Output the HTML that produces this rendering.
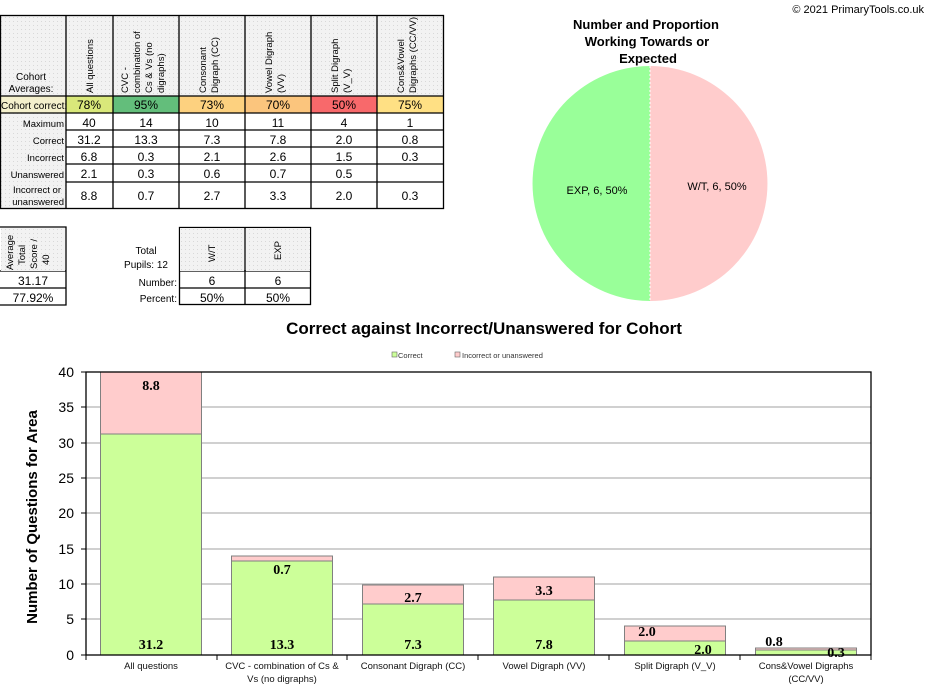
<!DOCTYPE html>
<html><head><style>body{margin:0;background:#fff}svg{display:block}</style></head><body>
<svg width="928" height="685" xmlns="http://www.w3.org/2000/svg" font-family="Liberation Sans, Arial, sans-serif">
<defs><pattern id="dot" width="4" height="4" patternUnits="userSpaceOnUse"><rect width="4" height="4" fill="#f2f2f2"/><rect x="1" y="1" width="1" height="1" fill="#d8d8d8"/></pattern></defs>
<!-- top table -->
<rect x="0" y="15" width="444" height="81" fill="url(#dot)"/>
<rect x="0" y="96" width="66" height="113" fill="url(#dot)"/>
<rect x="0" y="96" width="66" height="17" fill="#f4f0cc"/>
<rect x="66" y="96" width="47" height="17" fill="#d9e87a"/>
<rect x="113" y="96" width="66" height="17" fill="#63be7b"/>
<rect x="179" y="96" width="66" height="17" fill="#fdd17f"/>
<rect x="245" y="96" width="66" height="17" fill="#fbc57d"/>
<rect x="311" y="96" width="66" height="17" fill="#f8696b"/>
<rect x="377" y="96" width="67" height="17" fill="#ffe084"/>
<g stroke="#000" stroke-width="1.3" fill="none">
<rect x="0.5" y="15.5" width="443" height="193"/>
<path d="M66 15V209M113 15V209M179 15V209M245 15V209M311 15V209M377 15V209M0 96H444M0 113H444M66 130H444M66 147H444M66 164H444M66 182H444"/>
<path d="M0 227H66V305H0M0 271H66M0 288H66"/>
<rect x="179.5" y="227.5" width="131" height="77"/>
<path d="M245 227V305M179 271H311M179 288H311"/>
</g>
<rect x="1" y="228" width="64" height="43" fill="url(#dot)"/>
<rect x="180" y="228" width="64" height="43" fill="url(#dot)"/>
<rect x="246" y="228" width="64" height="43" fill="url(#dot)"/>
<g font-size="10" fill="#000">
<text x="31" y="80" text-anchor="middle">Cohort</text>
<text x="31" y="92" text-anchor="middle">Averages:</text>
<text x="1" y="109" font-size="10">Cohort correct:</text>
<g text-anchor="end" font-size="9.5"><text x="64" y="127">Maximum</text><text x="64" y="144">Correct</text><text x="64" y="161">Incorrect</text><text x="64" y="178">Unanswered</text><text x="61" y="193">Incorrect or</text><text x="64" y="205">unanswered</text></g>
<g font-size="9.5">
<text transform="translate(93,93) rotate(-90)">All questions</text>
<text transform="translate(128,93) rotate(-90)">CVC -</text><text transform="translate(140,93) rotate(-90)">combination of</text><text transform="translate(152,93) rotate(-90)">Cs &amp; Vs (no</text><text transform="translate(164,93) rotate(-90)">digraphs)</text>
<text transform="translate(206,93) rotate(-90)">Consonant</text><text transform="translate(218,93) rotate(-90)">Digraph (CC)</text>
<text transform="translate(272,93) rotate(-90)">Vowel Digraph</text><text transform="translate(284,93) rotate(-90)">(VV)</text>
<text transform="translate(338,93) rotate(-90)">Split Digraph</text><text transform="translate(350,93) rotate(-90)">(V_V)</text>
<text transform="translate(404,93) rotate(-90)">Cons&amp;Vowel</text><text transform="translate(416,93) rotate(-90)">Digraphs (CC/VV)</text>
<text transform="translate(13,270) rotate(-90)">Average</text><text transform="translate(25,265) rotate(-90)">Total</text><text transform="translate(37,269) rotate(-90)">Score /</text><text transform="translate(49,265) rotate(-90)">40</text>
<text transform="translate(215,262) rotate(-90)">W/T</text><text transform="translate(281,260) rotate(-90)">EXP</text>
</g>
<g text-anchor="middle" font-size="12">
<text x="89" y="109">78%</text><text x="146" y="109">95%</text><text x="212" y="109">73%</text><text x="278" y="109">70%</text><text x="344" y="109">50%</text><text x="410" y="109">75%</text>
<text x="89" y="127">40</text><text x="146" y="127">14</text><text x="212" y="127">10</text><text x="278" y="127">11</text><text x="344" y="127">4</text><text x="410" y="127">1</text>
<text x="89" y="144">31.2</text><text x="146" y="144">13.3</text><text x="212" y="144">7.3</text><text x="278" y="144">7.8</text><text x="344" y="144">2.0</text><text x="410" y="144">0.8</text>
<text x="89" y="161">6.8</text><text x="146" y="161">0.3</text><text x="212" y="161">2.1</text><text x="278" y="161">2.6</text><text x="344" y="161">1.5</text><text x="410" y="161">0.3</text>
<text x="89" y="178">2.1</text><text x="146" y="178">0.3</text><text x="212" y="178">0.6</text><text x="278" y="178">0.7</text><text x="344" y="178">0.5</text>
<text x="89" y="200">8.8</text><text x="146" y="200">0.7</text><text x="212" y="200">2.7</text><text x="278" y="200">3.3</text><text x="344" y="200">2.0</text><text x="410" y="200">0.3</text>
<text x="33" y="285">31.17</text><text x="33" y="302">77.92%</text>
<text x="212" y="285">6</text><text x="278" y="285">6</text><text x="212" y="302">50%</text><text x="278" y="302">50%</text>
</g>
<text x="146" y="254" text-anchor="middle">Total</text><text x="146" y="268" text-anchor="middle">Pupils: 12</text>
<text x="177" y="286" text-anchor="end">Number:</text><text x="177" y="302" text-anchor="end">Percent:</text>
</g>
<!-- pie -->
<text x="924" y="13" font-size="11" text-anchor="end">© 2021 PrimaryTools.co.uk</text>
<g font-size="13" font-weight="bold" text-anchor="middle"><text x="646" y="29">Number and Proportion</text><text x="647" y="46">Working Towards or</text><text x="648" y="63">Expected</text></g>
<path d="M650 66A117.5 117.5 0 0 1 650 301Z" fill="#ffcccc"/>
<path d="M650 66A117.5 117.5 0 0 0 650 301Z" fill="#99ff99"/>
<line x1="650" y1="66" x2="650" y2="301" stroke="#fff" stroke-dasharray="2,2"/>
<text x="597" y="194" font-size="11" text-anchor="middle">EXP, 6, 50%</text>
<text x="717" y="190" font-size="11" text-anchor="middle">W/T, 6, 50%</text>
<!-- bar chart -->
<text x="484" y="334" font-size="17" font-weight="bold" text-anchor="middle">Correct against Incorrect/Unanswered for Cohort</text>
<rect x="392" y="352" width="5" height="5" fill="#ccff99" stroke="#666" stroke-width=".6"/><text x="398" y="358" font-size="7.5" fill="#333">Correct</text>
<rect x="455" y="352" width="5" height="5" fill="#ffcccc" stroke="#666" stroke-width=".6"/><text x="462" y="358" font-size="7.5" fill="#333">Incorrect or unanswered</text>
<g stroke="#a0a0a0"><path d="M86 407H871M86 443H871M86 478H871M86 513H871M86 549H871M86 584H871M86 619H871"/></g>
<g stroke="#808080" stroke-width="1">
<rect x="100.5" y="372" width="101" height="62" fill="#ffcccc"/><rect x="100.5" y="434" width="101" height="221" fill="#ccff99"/>
<rect x="231.5" y="556" width="101" height="5" fill="#ffcccc"/><rect x="231.5" y="561" width="101" height="94" fill="#ccff99"/>
<rect x="362.5" y="585" width="101" height="19" fill="#ffcccc"/><rect x="362.5" y="604" width="101" height="51" fill="#ccff99"/>
<rect x="493.5" y="577" width="101" height="23" fill="#ffcccc"/><rect x="493.5" y="600" width="101" height="55" fill="#ccff99"/>
<rect x="624.5" y="626" width="101" height="15" fill="#ffcccc"/><rect x="624.5" y="641" width="101" height="14" fill="#ccff99"/>
<rect x="755.5" y="648" width="101" height="2" fill="#ffcccc"/><rect x="755.5" y="650" width="101" height="5" fill="#ccff99"/>
</g>
<rect x="86" y="372" width="785" height="283" fill="none" stroke="#000" stroke-width="1.3"/>
<g stroke="#000"><path d="M81 372H86M81 407H86M81 443H86M81 478H86M81 513H86M81 549H86M81 584H86M81 619H86M81 655H86M86 655V660M217 655V660M347 655V660M478 655V660M609 655V660M740 655V660M871 655V660"/></g>
<g font-size="14" text-anchor="end"><text x="74" y="377">40</text><text x="74" y="412">35</text><text x="74" y="448">30</text><text x="74" y="483">25</text><text x="74" y="518">20</text><text x="74" y="554">15</text><text x="74" y="589">10</text><text x="74" y="624">5</text><text x="74" y="660">0</text></g>
<text transform="translate(37,517) rotate(-90)" font-size="15" font-weight="bold" text-anchor="middle">Number of Questions for Area</text>
<g font-family="Liberation Serif, serif" font-size="14" font-weight="bold" text-anchor="middle">
<text x="151" y="390">8.8</text><text x="151" y="649">31.2</text>
<text x="282" y="574">0.7</text><text x="282" y="649">13.3</text>
<text x="413" y="602">2.7</text><text x="413" y="649">7.3</text>
<text x="544" y="595">3.3</text><text x="544" y="649">7.8</text>
<text x="647" y="636">2.0</text><text x="703" y="654">2.0</text>
<text x="774" y="646">0.8</text><text x="836" y="657">0.3</text>
</g>
<g font-size="9.5" text-anchor="middle" fill="#111">
<text x="151" y="669">All questions</text>
<text x="282" y="669">CVC - combination of Cs &amp;</text><text x="282" y="682">Vs (no digraphs)</text>
<text x="413" y="669">Consonant Digraph (CC)</text>
<text x="544" y="669">Vowel Digraph (VV)</text>
<text x="675" y="669">Split Digraph (V_V)</text>
<text x="806" y="669">Cons&amp;Vowel Digraphs</text><text x="806" y="682">(CC/VV)</text>
</g>
</svg>
</body></html>
